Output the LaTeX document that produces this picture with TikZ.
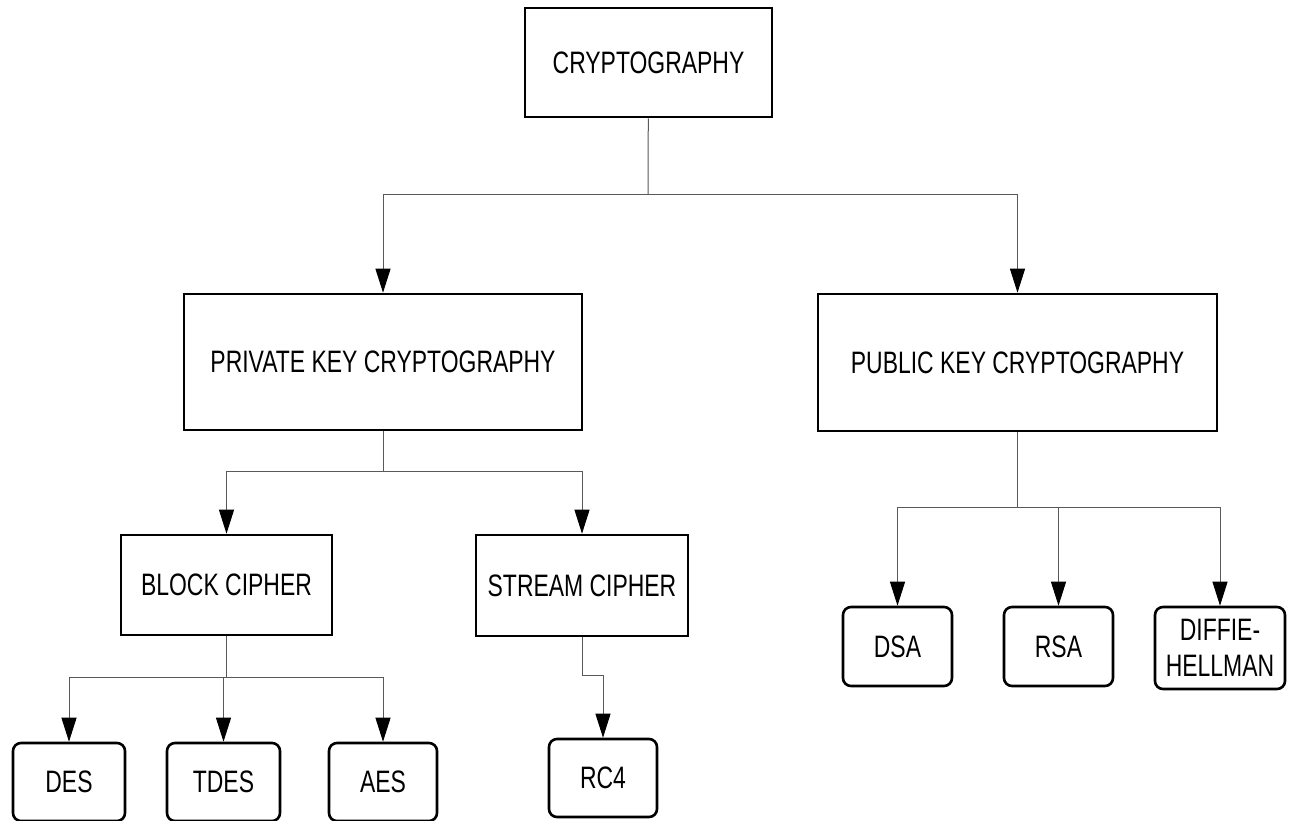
\documentclass[tikz,border=0pt]{standalone}
\usepackage{fontspec}
\usepackage{tikz}
\usetikzlibrary{arrows.meta}
\newfontfamily\narrowsans[FakeStretch=0.74]{Liberation Sans}

\tikzset{
  box/.style={draw, line width=1.3pt, align=center, font=\narrowsans\fontsize{15.5}{18}\selectfont, inner sep=0pt},
  leaf/.style={box, rounded corners=4pt},
  link/.style={draw=black!65, line width=0.5pt},
  arrow/.style={link, -{Triangle[length=12pt,width=7.5pt,black]}}
}

\begin{document}
\begin{tikzpicture}[x=0.5pt,y=-0.5pt]
\useasboundingbox (0,0) rectangle (1294,820);
\clip (0,0) rectangle (1294,820);
\fill[white] (0,0) rectangle (1294,820);
% boxes
\node[box, minimum width=123.5pt, minimum height=54.5pt] (crypto) at (648.5,62.5) {CRYPTOGRAPHY};
\node[box, minimum width=199pt, minimum height=68pt] (private) at (383,362) {PRIVATE KEY CRYPTOGRAPHY};
\node[box, minimum width=199.5pt, minimum height=68.5pt] (public) at (1017.5,362.5) {PUBLIC KEY CRYPTOGRAPHY};
\node[box, minimum width=105.5pt, minimum height=50pt] (block) at (226.5,585) {BLOCK CIPHER};
\node[box, minimum width=106pt, minimum height=50.5pt] (stream) at (582,585.5) {STREAM CIPHER};
% leaves
\node[leaf, minimum width=56pt, minimum height=39pt] (des) at (69,782) {DES};
\node[leaf, minimum width=56.5pt, minimum height=39pt] (tdes) at (223.5,782) {TDES};
\node[leaf, minimum width=54pt, minimum height=39pt] (aes) at (383,782) {AES};
\node[leaf, minimum width=54pt, minimum height=39pt] (rc4) at (603,778) {RC4};
\node[leaf, minimum width=54.5pt, minimum height=39.5pt] (dsa) at (897.5,646.5) {DSA};
\node[leaf, minimum width=54.5pt, minimum height=39.5pt] (rsa) at (1058.5,646.5) {RSA};
\node[leaf, minimum width=65pt, minimum height=41pt] (dh) at (1220,648) {DIFFIE-\\HELLMAN};
% junctions
\coordinate (j0) at (648,194);
\coordinate (j1) at (383,471);
\coordinate (j2) at (226.5,677);
\coordinate (j3) at (1017.5,507);
\coordinate (j4) at (603,675);
% connectors
\draw[link] (crypto) -- (j0);
\draw[arrow] (j0) -| (private);
\draw[arrow] (j0) -| (public);
\draw[link] (private) -- (j1);
\draw[arrow] (j1) -| (block);
\draw[arrow] (j1) -| (stream);
\draw[link] (block) -- (j2);
\draw[arrow] (j2) -| (des);
\draw[arrow] (j2) -| (tdes);
\draw[arrow] (j2) -| (aes);
\draw[arrow] (stream.south) |- (j4) -- (rc4);
\draw[link] (public) -- (j3);
\draw[arrow] (j3) -| (dsa);
\draw[arrow] (j3) -| (rsa);
\draw[arrow] (j3) -| (dh);
\end{tikzpicture}
\end{document}
